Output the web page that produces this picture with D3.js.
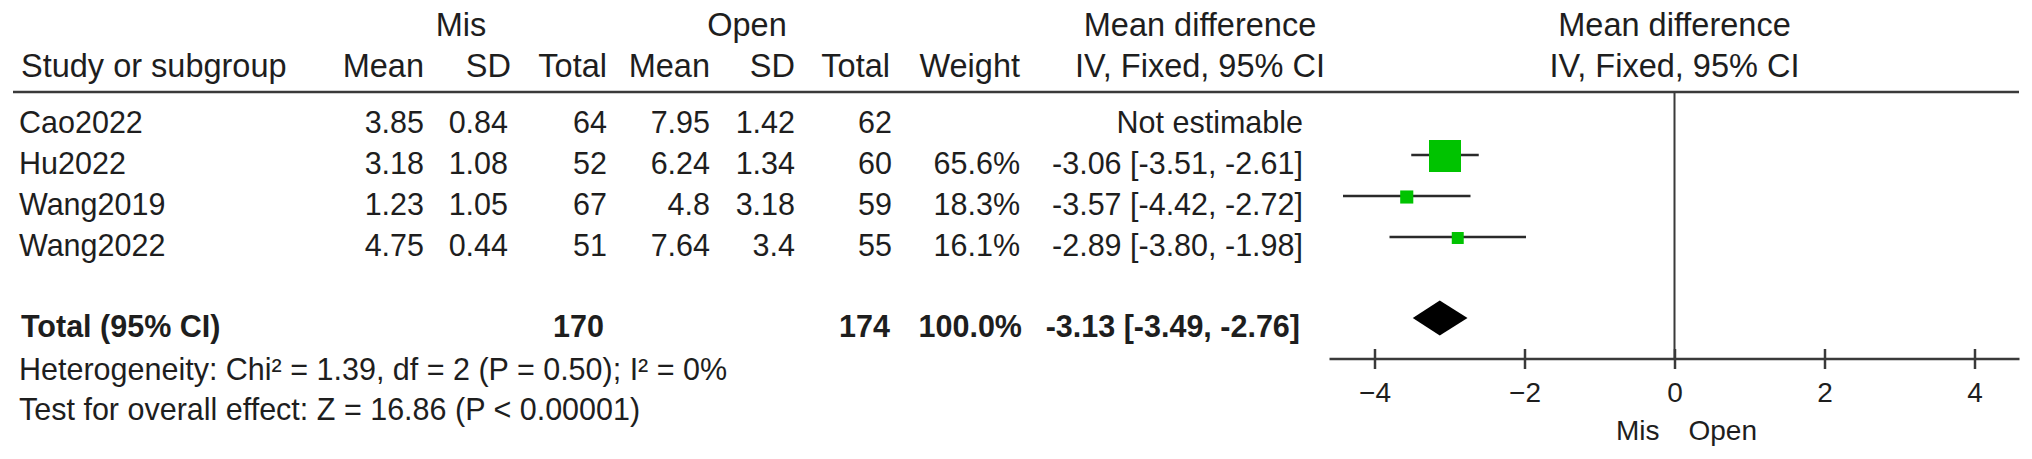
<!DOCTYPE html>
<html>
<head>
<meta charset="utf-8">
<script src="https://cdn.jsdelivr.net/npm/d3@7"></script>
<style>
  body { margin: 0; background: #fff; }
  svg { display: block; font-family: "Liberation Sans", Arial, sans-serif; }
  text { fill: #1e1e1e; }
</style>
</head>
<body>
<div class="forest"></div>
<script>
// study data
const studies = ["Cao2022", "Hu2022", "Wang2019", "Wang2022"];
const misMean = [3.85, 3.18, 1.23, 4.75];
const misSD = [0.84, 1.08, 1.05, 0.44];
const misN = [64, 52, 67, 51];
const openMean = [7.95, 6.24, 4.8, 7.64];
const openSD = [1.42, 1.34, 3.18, 3.4];
const openN = [62, 60, 59, 55];
const weights = [null, 65.6, 18.3, 16.1];
const md = [null, -3.06, -3.57, -2.89];
const ciLow = [null, -3.51, -4.42, -3.8];
const ciHigh = [null, -2.61, -2.72, -1.98];

// pooled result
const totalMis = 170;
const totalOpen = 174;
const totalWeight = 100.0;
const pooled = [-3.13, -3.49, -2.76];

const axisTicks = [-4, -2, 0, 2, 4];
const footnotes = [
  "Heterogeneity: Chi\u00b2 = 1.39, df = 2 (P = 0.50); I\u00b2 = 0%",
  "Test for overall effect: Z = 16.86 (P < 0.00001)"
];

const width = 2032;
const height = 459;
const svg = d3.select(".forest").append("svg")
  .attr("width", width)
  .attr("height", height);

const fs = 30.5; // table font size
const hfs = 32.5; // header font size
const rowY = d3.scaleLinear().domain([0, studies.length - 1]).range([133, 256]);
const totalY = 337;
const x = d3.scaleLinear().domain([-4.6, 4.6]).range([1329.5, 2019.5]);
const axisY = 359;
const lineY = 92;
const boxSize = d3.scalePow().exponent(0.7).domain([0, 65.6]).range([0, 32]);

// column right edges
const cols = { misMean: 424, misSD: 508, misN: 607, openMean: 710, openSD: 795, openN: 892, weight: 1020, ci: 1303 };

const txt = (x0, y0, s, anchor, bold, size) =>
  svg.append("text")
    .attr("x", x0).attr("y", y0)
    .attr("text-anchor", anchor || "start")
    .attr("font-size", size || fs)
    .attr("font-weight", bold ? "bold" : "normal")
    .text(s);

// headers
txt(461, 36, "Mis", "middle", false, hfs);
txt(747, 36, "Open", "middle", false, hfs);
txt(1200, 36, "Mean difference", "middle", false, hfs);
txt(x(0), 36, "Mean difference", "middle", false, hfs);
txt(21, 77, "Study or subgroup", "start", false, hfs);
txt(cols.misMean, 77, "Mean", "end", false, hfs);
txt(cols.misSD + 3, 77, "SD", "end", false, hfs);
txt(cols.misN, 77, "Total", "end", false, hfs);
txt(cols.openMean, 77, "Mean", "end", false, hfs);
txt(cols.openSD, 77, "SD", "end", false, hfs);
txt(cols.openN - 2, 77, "Total", "end", false, hfs);
txt(cols.weight, 77, "Weight", "end", false, hfs);
txt(1200, 77, "IV, Fixed, 95% CI", "middle", false, hfs);
txt(x(0), 77, "IV, Fixed, 95% CI", "middle", false, hfs);

svg.append("line")
  .attr("x1", 13).attr("x2", 2019)
  .attr("y1", lineY).attr("y2", lineY)
  .attr("stroke", "#3a3a3a").attr("stroke-width", 2.5);

// study rows
const fmtCI = (i) => `${md[i].toFixed(2)} [${ciLow[i].toFixed(2)}, ${ciHigh[i].toFixed(2)}]`;
studies.forEach((s, i) => {
  const y = rowY(i);
  txt(19, y, s);
  txt(cols.misMean, y, misMean[i], "end");
  txt(cols.misSD, y, misSD[i], "end");
  txt(cols.misN, y, misN[i], "end");
  txt(cols.openMean, y, openMean[i], "end");
  txt(cols.openSD, y, openSD[i], "end");
  txt(cols.openN, y, openN[i], "end");
  if (weights[i] != null) {
    txt(cols.weight, y, weights[i].toFixed(1) + "%", "end");
    txt(cols.ci, y, fmtCI(i), "end");
  } else {
    txt(cols.ci, y, "Not estimable", "end");
  }
});

// total row
txt(21, totalY, "Total (95% CI)", "start", true);
txt(cols.misN - 3, totalY, totalMis, "end", true);
txt(cols.openN - 2, totalY, totalOpen, "end", true);
txt(cols.weight + 2, totalY, totalWeight.toFixed(1) + "%", "end", true);
txt(cols.ci - 3, totalY,
  `${pooled[0].toFixed(2)} [${pooled[1].toFixed(2)}, ${pooled[2].toFixed(2)}]`, "end", true);

footnotes.forEach((f, i) => txt(19, 380 + i * 40, f));

// plot: null line
svg.append("line")
  .attr("x1", x(0)).attr("x2", x(0))
  .attr("y1", lineY).attr("y2", axisY)
  .attr("stroke", "#3a3a3a").attr("stroke-width", 2);

// CI whiskers and boxes
const est = studies.map((s, i) => ({ i, md: md[i], lo: ciLow[i], hi: ciHigh[i], w: weights[i] }))
  .filter((d) => d.w != null);

svg.selectAll(".ci")
  .data(est)
  .enter()
  .append("line")
  .attr("class", "ci")
  .attr("x1", (d) => x(d.lo))
  .attr("x2", (d) => x(d.hi))
  .attr("y1", (d) => rowY(d.i) - 19)
  .attr("y2", (d) => rowY(d.i) - 19)
  .attr("stroke", "#2a2a2a")
  .attr("stroke-width", 2.5);

svg.selectAll(".box")
  .data(est)
  .enter()
  .append("rect")
  .attr("class", "box")
  .attr("x", (d) => x(d.md) - boxSize(d.w) / 2)
  .attr("y", (d) => rowY(d.i) - 18 - boxSize(d.w) / 2)
  .attr("width", (d) => boxSize(d.w))
  .attr("height", (d) => boxSize(d.w))
  .attr("fill", "#00c300");

// pooled diamond
const dy = totalY - 19;
svg.append("path")
  .attr("d", `M${x(pooled[1])},${dy} L${x(pooled[0])},${dy - 17.5} L${x(pooled[2])},${dy} L${x(pooled[0])},${dy + 17.5} Z`)
  .attr("fill", "#000");

// axis
const axis = svg.append("g")
  .attr("transform", `translate(0,${axisY})`)
  .call(d3.axisBottom(x).tickValues(axisTicks).tickSizeOuter(0));
axis.select(".domain").attr("stroke", "#3a3a3a").attr("stroke-width", 2.5)
  .attr("d", `M${x.range()[0]},0H${x.range()[1]}`);
axis.selectAll(".tick line").attr("y1", -10).attr("y2", 10)
  .attr("stroke", "#3a3a3a").attr("stroke-width", 2.5);
axis.selectAll(".tick text")
  .attr("y", 43).attr("dy", null)
  .attr("font-size", 28)
  .attr("font-family", '"Liberation Sans", Arial, sans-serif')
  .attr("fill", "#1e1e1e");

txt(x(0) - 15, 440, "Mis", "end", false, 28);
txt(x(0) + 14, 440, "Open", "start", false, 28);
</script>
</body>
</html>
